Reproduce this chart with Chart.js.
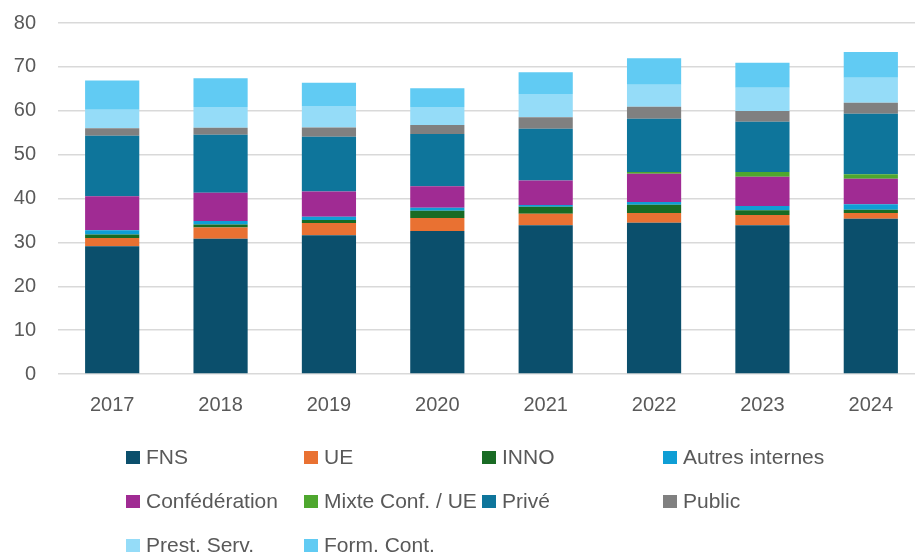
<!DOCTYPE html>
<html>
<head>
<meta charset="utf-8">
<script src="https://cdn.jsdelivr.net/npm/chart.js@4/dist/chart.umd.min.js"></script>
<style>
  html, body { margin: 0; padding: 0; background: #fff; overflow: hidden; width: 915px; height: 556px; }
  #wrap { position: absolute; left: 0; top: -11px; width: 925px; height: 567px; }
  #legend { position: absolute; left: 126px; top: 435px; display: grid;
    grid-template-columns: 178px 178px 181px 180px; grid-auto-rows: 44px;
    font-family: "Liberation Sans", Arial, sans-serif; font-size: 21px; color: #595959; }
  .item { display: flex; align-items: center; white-space: nowrap; }
  .box { width: 14px; height: 13px; margin-right: 6px; flex: none; }
</style>
</head>
<body>
<div id="wrap"><canvas id="c" width="925" height="567"></canvas></div>
<div id="legend"></div>
<script>
const categories = ["2017", "2018", "2019", "2020", "2021", "2022", "2023", "2024"];
const yTicks = [0, 10, 20, 30, 40, 50, 60, 70, 80];

const FNS          = [29.1, 30.85, 31.6, 32.6, 33.9, 34.5, 33.9, 35.4];
const UE           = [1.9, 2.55, 2.8, 2.95, 2.6, 2.2, 2.35, 1.3];
const INNO         = [0.8, 0.7, 0.7, 1.65, 1.6, 1.9, 1.05, 0.75];
const Autres       = [0.95, 0.8, 0.75, 0.7, 0.4, 0.6, 1.0, 1.25];
const Confederation= [7.75, 6.4, 5.75, 4.9, 5.6, 6.45, 6.65, 5.8];
const Mixte        = [0, 0, 0, 0, 0, 0.4, 1.1, 1.0];
const Prive        = [13.8, 13.25, 12.5, 11.9, 11.8, 12.15, 11.45, 13.8];
const Public       = [1.7, 1.6, 2.1, 2.05, 2.6, 2.7, 2.45, 2.5];
const PrestServ    = [4.2, 4.7, 4.9, 4.1, 5.3, 5.05, 5.3, 5.7];
const FormCont     = [6.7, 6.55, 5.3, 4.25, 5.0, 6.0, 5.7, 5.9];

const seriesNames = ["FNS", "UE", "INNO", "Autres internes", "Confédération",
  "Mixte Conf. / UE", "Privé", "Public", "Prest. Serv.", "Form. Cont."];
const seriesData = [FNS, UE, INNO, Autres, Confederation, Mixte, Prive, Public, PrestServ, FormCont];
const seriesColors = ["#0B4F6C", "#E97132", "#196B24", "#0F9ED5", "#A02B93",
  "#4EA72E", "#0E759B", "#808080", "#95DCF8", "#61CBF3"];

const datasets = seriesNames.map((n, i) => ({
  label: n, data: seriesData[i], backgroundColor: seriesColors[i],
  borderWidth: 0, barPercentage: 0.5, categoryPercentage: 1.0
}));

const chart = new Chart(document.getElementById('c'), {
  type: 'bar',
  data: { labels: categories, datasets },
  options: {
    responsive: false, animation: false,
    layout: { padding: { left: 12, right: 0, top: 11, bottom: 120 } },
    plugins: { legend: { display: false }, tooltip: { enabled: false } },
    scales: {
      x: { stacked: true,
        grid: { display: false, drawTicks: false },
        border: { display: false },
        ticks: { color: '#595959', padding: 19, font: { family: '"Liberation Sans", Arial, sans-serif', size: 20 } } },
      y: { stacked: true, min: 0, max: 80,
        afterBuildTicks: s => { s.ticks = yTicks.map(v => ({ value: v })); },
        afterFit: s => { s.width = 46; },
        grid: { color: '#D9D9D9', lineWidth: 1.5, drawTicks: false },
        border: { display: false },
        ticks: { color: '#595959', padding: 22, font: { family: '"Liberation Sans", Arial, sans-serif', size: 20 } } }
    }
  }
});

const lg = document.getElementById('legend');
chart.data.datasets.forEach(ds => {
  const it = document.createElement('div'); it.className = 'item';
  const b = document.createElement('span'); b.className = 'box'; b.style.background = ds.backgroundColor;
  const t = document.createElement('span'); t.textContent = ds.label;
  it.appendChild(b); it.appendChild(t); lg.appendChild(it);
});
</script>
</body>
</html>
